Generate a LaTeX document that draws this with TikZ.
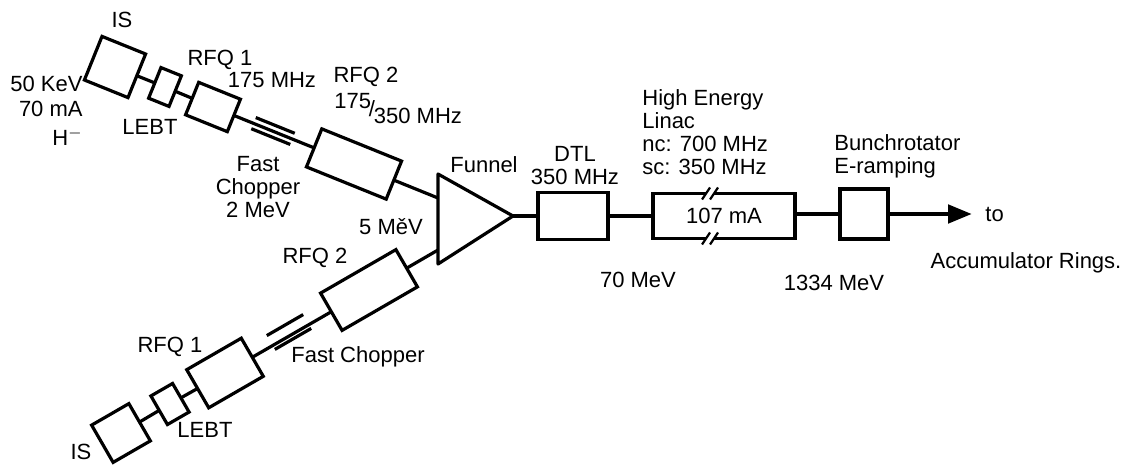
\documentclass[tikz,border=0pt]{standalone}
\usepackage{fontspec}
\setmainfont{Liberation Sans}
\usetikzlibrary{arrows.meta,positioning,calc}

\begin{document}
\begin{tikzpicture}[
  x=0.5pt, y=-0.5pt,
  font=\fontsize{11}{11.5}\selectfont,
  box/.style={draw, line width=1.6pt, inner sep=0pt, outer sep=0pt},
  beam/.style={line width=1.6pt},
  lbl/.style={inner sep=0.5pt},
  chop/.style={inner sep=0pt, outer sep=0pt, minimum width=21pt},
  arr/.style={-{Triangle[length=12pt,width=9pt]}, line width=2.4pt}
]
\useasboundingbox (0,0) rectangle (1129,471);
% upper branch
\node[box, rotate=-22, minimum width=23.5pt, minimum height=23.5pt] (isA) at (115,67) {};
\node[box, rotate=-22, minimum width=11pt, minimum height=16.5pt] (lebtA) at (165,87) {};
\node[box, rotate=-22, minimum width=22.5pt, minimum height=17.5pt] (rfqA1) at (213,107) {};
\node[box, rotate=-22, minimum width=43pt, minimum height=20.5pt] (rfqA2) at (354,164) {};
\node[chop, rotate=-22, minimum height=6pt] (chopA) at (273,131) {};
% lower branch
\node[box, rotate=30, minimum width=21.5pt, minimum height=21.5pt] (isB) at (121,433) {};
\node[box, rotate=30, minimum width=12.5pt, minimum height=16.5pt] (lebtB) at (170,404) {};
\node[box, rotate=30, minimum width=31.5pt, minimum height=22pt] (rfqB1) at (225,373) {};
\node[box, rotate=30, minimum width=43.5pt, minimum height=21.5pt] (rfqB2) at (369,290) {};
\node[chop, rotate=30, minimum height=8pt] (chopB) at (289,332) {};
% funnel and main line
\draw[beam, line join=round] (438,174) coordinate (fanTop) -- (513,216) coordinate (fanTip)
  -- (438,264) coordinate (fanBot) -- cycle;
\coordinate (inA) at (438,198);
\coordinate (inB) at (438,250);
\node[box, minimum width=35pt, minimum height=23.5pt] (dtl) at (573,216) {};
\node[box, minimum width=71pt, minimum height=22.5pt] (hel) at (724,216) {107 mA};
\node[box, minimum width=24pt, minimum height=25pt] (brot) at (864,214) {};
\coordinate (toend) at (972,214);
\foreach \a/\b in {isA/lebtA, lebtA/rfqA1, rfqA1/rfqA2, rfqA2/inA,
                   isB/lebtB, lebtB/rfqB1, rfqB1/rfqB2, rfqB2/inB,
                   fanTip/dtl, dtl/hel}
  \draw[beam] (\a) -- (\b);
\draw[beam] (hel.east |- brot) -- (brot);
\draw[arr] (brot) -- (toend);
% chopper marks
\foreach \c in {chopA, chopB}
  \draw[beam] (\c.north west) -- (\c.north east) (\c.south west) -- (\c.south east);
% breaks in the linac
\foreach \e in {north, south} {
  \fill[white] ($(hel.\e)+(-20.5,3)$) -- ($(hel.\e)+(-12.5,3)$)
    -- ($(hel.\e)+(-7.5,-3)$) -- ($(hel.\e)+(-15.5,-3)$) -- cycle;
  \foreach \d in {-18,-10}
    \draw[line width=1.1pt] ($(hel.\e)+(\d-4,6)$) -- ($(hel.\e)+(\d+4,-6)$);
}
% labels
\node[lbl] (tIsA) at (122,20) {IS};
\node[lbl, align=right, anchor=east] (tSrcA) at (84,111) {50 KeV\\[1pt]70 mA\\[3pt]H$^-$};
\node[lbl] (tLebtA) at (150,127) {LEBT};
\node[lbl] (tRfqA1) at (220,60) {RFQ 1};
\node[lbl] (tFrqA1) at (272,80) {175 MHz};
\node[lbl] (tRfqA2) at (366,77) {RFQ 2};
\node[lbl, anchor=base west] (tFrqA2) at (333,108)
  {175\hspace{-0.1em}\raisebox{-0.4em}{/}\hspace{-0.05em}\raisebox{-0.7em}{350 MHz}};
\node[lbl, align=center] (tChopA) at (258,187) {Fast\\Chopper\\2 MeV};
\node[lbl] (tEnA) at (391,227) {5 MěV};
\node[lbl] (tFun) at (484,165) {Funnel};
\node[lbl, align=center] (tDtl) at (575,166) {DTL\\350 MHz};
\node[lbl, align=left, anchor=west] (tHel) at (641,132)
  {High Energy\\Linac\\nc: 700 MHz\\sc: 350 MHz};
\node[lbl, align=left, anchor=west] (tBrot) at (833,156) {Bunchrotator\\E-ramping};
\node[lbl] (tE70) at (638,280) {70 MeV};
\node[lbl] (tE1334) at (834,283) {1334 MeV};
\node[lbl, right=6pt of toend] (tTo) {to};
\node[lbl] (tAcc) at (1026,263) {Accumulator Rings.};
\node[lbl] (tRfqB2) at (315,258) {RFQ 2};
\node[lbl] (tChopB) at (358,357) {Fast Chopper};
\node[lbl] (tRfqB1) at (170,347) {RFQ 1};
\node[lbl] (tLebtB) at (205,430) {LEBT};
\node[lbl] (tIsB) at (81,452) {IS};
\end{tikzpicture}
\end{document}
